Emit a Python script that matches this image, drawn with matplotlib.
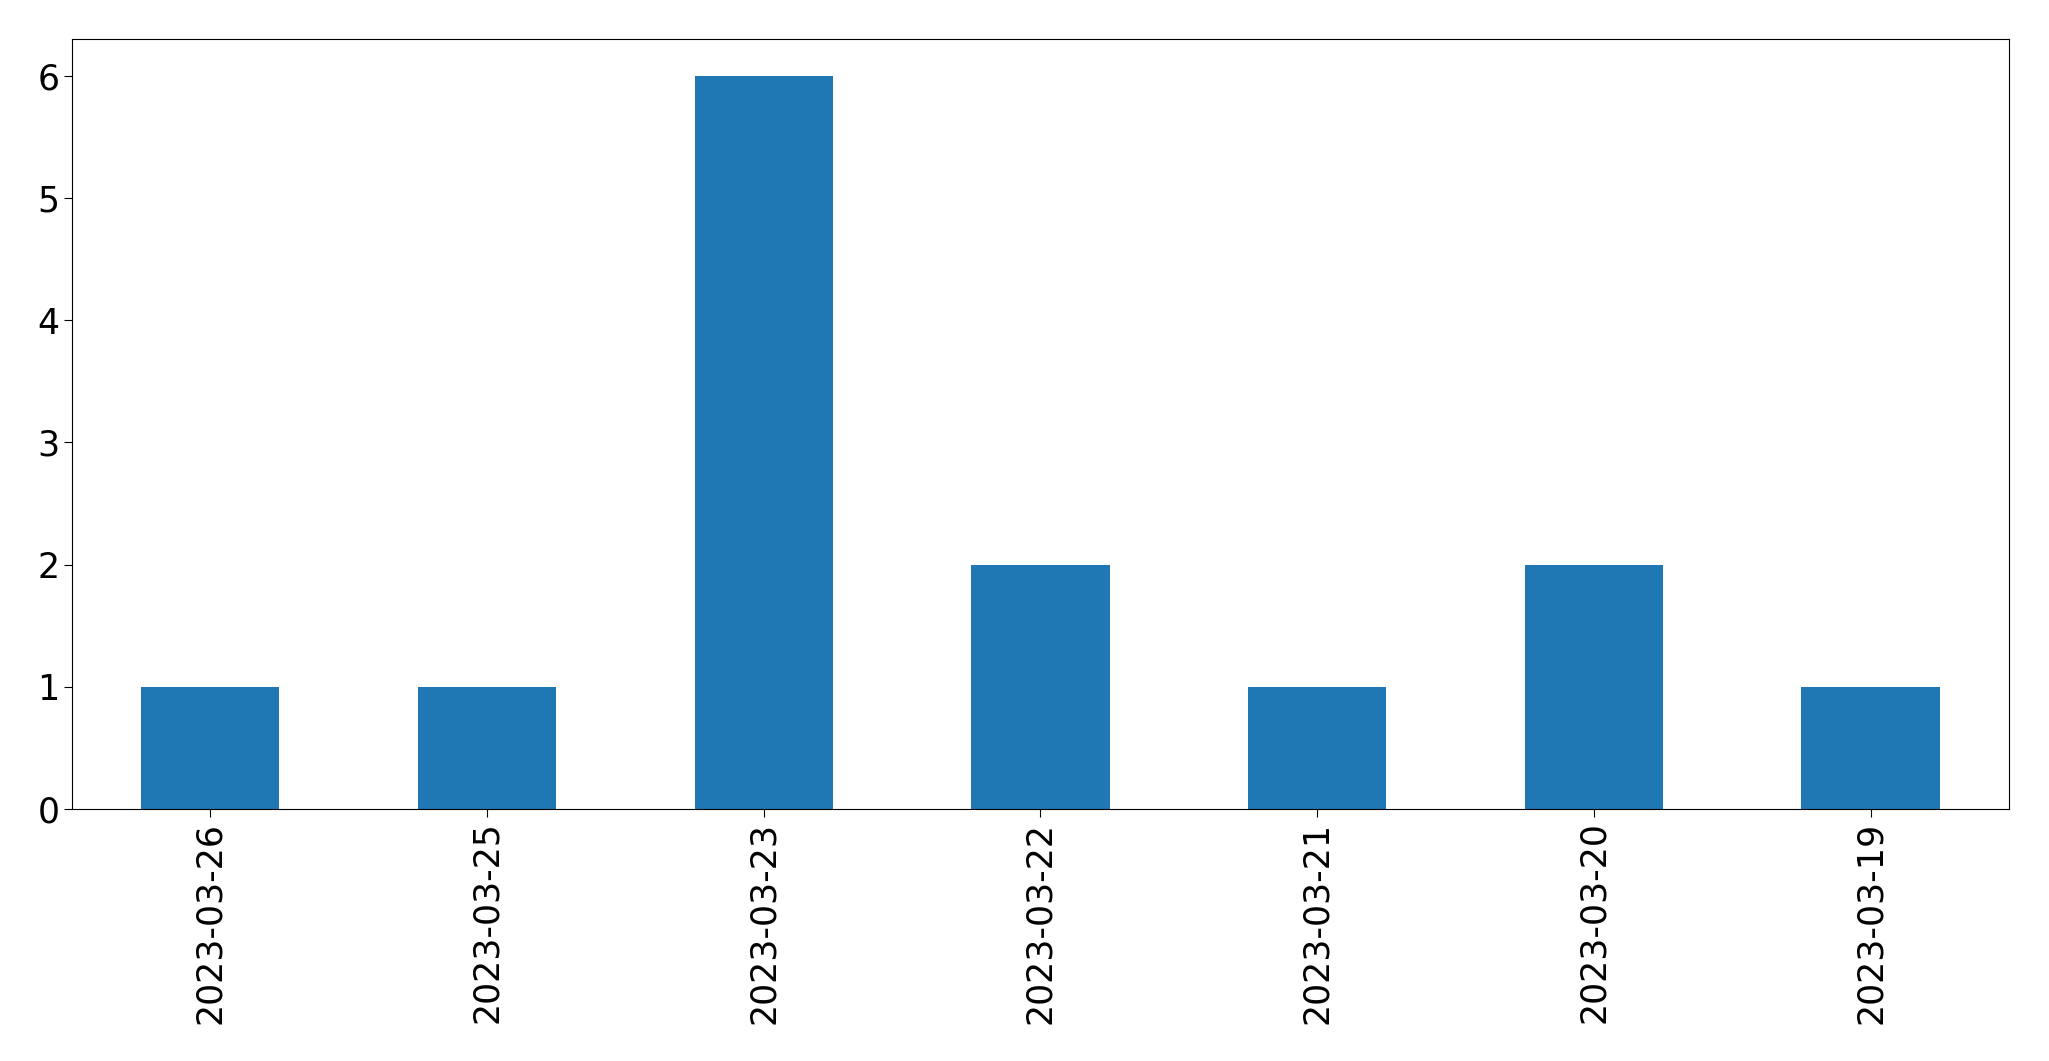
import matplotlib
matplotlib.use("Agg")
import matplotlib.pyplot as plt
import numpy as np

# Counts per day
dates = ["2023-03-26", "2023-03-25", "2023-03-23", "2023-03-22",
         "2023-03-21", "2023-03-20", "2023-03-19"]
counts = [1, 1, 6, 2, 1, 2, 1]

fig = plt.figure(figsize=(20.49, 10.61), dpi=100)
ax = fig.add_axes([0.0351, 0.2375, 0.9454, 0.7257])

x = np.arange(len(dates))
ax.bar(x, counts, width=0.5, color="#1f77b4")

ax.set_xlim(-0.5, len(dates) - 0.5)
ax.set_ylim(0, max(counts) * 1.05)
ax.set_xticks(x)
ax.set_xticklabels(dates, rotation=90)
ax.tick_params(axis="both", labelsize=25, length=5.5)

fig.savefig("out.png", dpi=100)
